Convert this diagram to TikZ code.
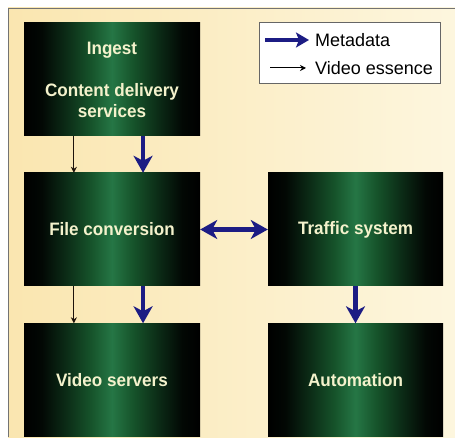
\documentclass[tikz,border=0pt]{standalone}
\usepackage{fontspec}
\setmainfont{Liberation Sans}
\newfontfamily\condbold[FakeStretch=0.95]{Liberation Sans Bold}
\newfontfamily\condreg{Liberation Sans}
\usetikzlibrary{arrows.meta,calc}
\definecolor{boxgreen}{HTML}{1A6232}
\definecolor{boxgreenlight}{HTML}{257645}
\definecolor{paleyellow}{HTML}{F4F2CC}
\definecolor{metablue}{HTML}{1C1C84}
\definecolor{creamA}{HTML}{FAE6B0}
\definecolor{creamB}{HTML}{FDF6DE}
\pgfdeclarehorizontalshading{boxshade}{100bp}{color(0bp)=(black); color(25bp)=(black); color(30bp)=(black!92!boxgreen); color(37bp)=(black!55!boxgreen); color(44bp)=(black!15!boxgreen); color(50bp)=(boxgreenlight); color(56bp)=(black!15!boxgreen); color(63bp)=(black!55!boxgreen); color(70bp)=(black!92!boxgreen); color(75bp)=(black); color(100bp)=(black)}
\tikzset{
  greenbox/.style={draw=none, minimum width=176pt, minimum height=113pt, inner sep=0pt,
    shading=boxshade, shading angle=0,
    text=paleyellow, font=\condbold\fontsize{18}{21}\selectfont, align=center},
  metaarrow/.style={draw=metablue, line width=4.5pt, -{Stealth[length=17pt,width=19pt,inset=5pt]}},
  bimeta/.style={draw=metablue, line width=4.5pt, {Stealth[length=17pt,width=19pt,inset=5pt]}-{Stealth[length=17pt,width=19pt,inset=5pt]}},
  videoarrow/.style={draw=black!85!brown, line width=1.1pt, -{Stealth[length=6pt,width=6pt]}},
  legendtext/.style={font=\condreg\fontsize{18}{20}\selectfont, anchor=west, inner sep=0pt}
}
\begin{document}
\begin{tikzpicture}[x=1pt,y=-1pt]
\useasboundingbox (0,0) rectangle (455,443);
% background
\shade[left color=creamA, right color=creamB] (8,8) rectangle (455,437);
\draw[black!55, line width=0.8pt] (455,8) -- (8,8) -- (8,437);
% boxes
\node[greenbox] (ingest) at (112,79.5) {Ingest\\[21pt]Content delivery\\services};
\node[greenbox] (fileconv) at (112,229.5) {File conversion};
\node[greenbox] (videoserv) at (112,380) {Video servers};
\node[greenbox, minimum width=175pt] (traffic) at (355.5,229.5) {Traffic system};
\node[greenbox, minimum width=175pt] (autom) at (355.5,380) {Automation};
% connectors
\draw[videoarrow] ($(ingest.south west)!0.284!(ingest.south east)$) -- ($(fileconv.north west)!0.284!(fileconv.north east)$);
\draw[metaarrow] ($(ingest.south west)!0.676!(ingest.south east)$) -- ($(fileconv.north west)!0.676!(fileconv.north east)$);
\draw[videoarrow] ($(fileconv.south west)!0.284!(fileconv.south east)$) -- ($(videoserv.north west)!0.284!(videoserv.north east)$);
\draw[metaarrow] ($(fileconv.south west)!0.676!(fileconv.south east)$) -- ($(videoserv.north west)!0.676!(videoserv.north east)$);
\draw[bimeta] (fileconv.east) -- (traffic.west);
\draw[metaarrow] (traffic.south) -- (autom.north);
% legend
\node[draw=black!60, fill=white, line width=0.8pt, minimum width=181pt, minimum height=61pt, inner sep=0pt] (legend) at (349.5,52.5) {};
\coordinate (m1) at (265,40);
\coordinate (m2) at (309,40);
\coordinate (v1) at (270,68);
\coordinate (v2) at (306,68);
\draw[draw=metablue, line width=4.5pt, -{Stealth[length=13pt,width=15pt,inset=3pt]}] (m1) -- (m2);
\draw[black, line width=1pt, -{Stealth[length=6pt,width=6pt]}] (v1) -- (v2);
\node[legendtext] (metalabel) at (315,40) {Metadata};
\node[legendtext] (videolabel) at (315,68) {Video essence};
\end{tikzpicture}
\end{document}
